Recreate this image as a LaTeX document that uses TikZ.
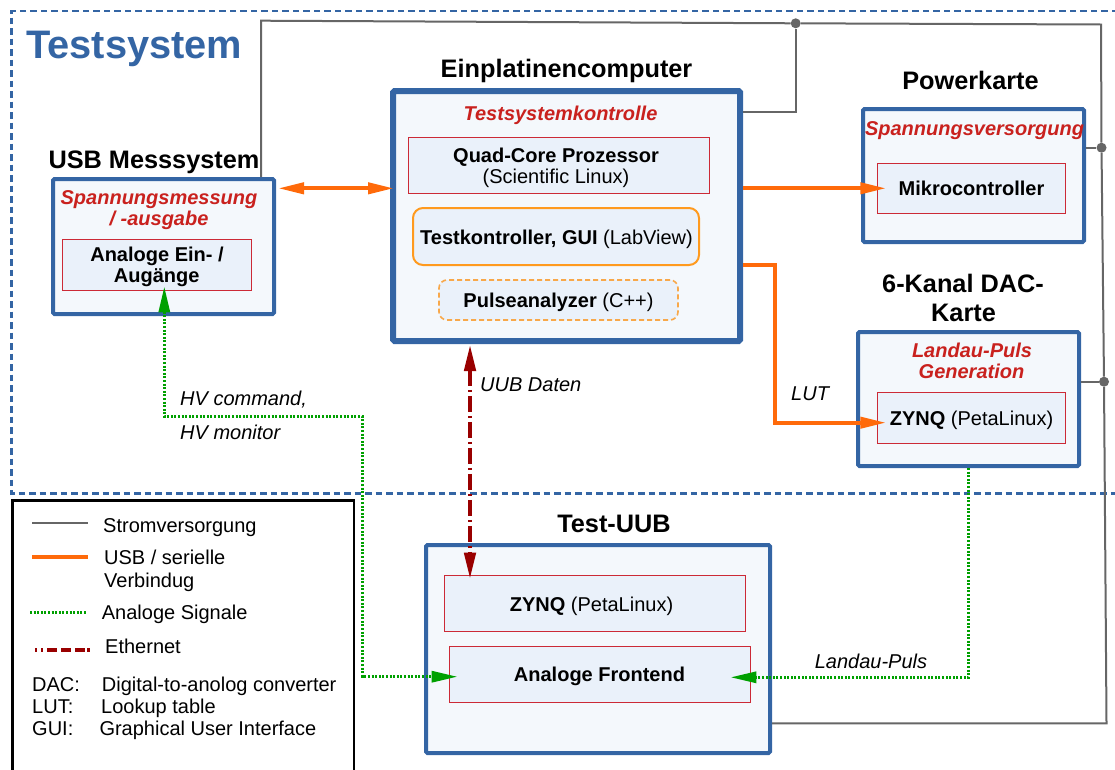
\documentclass[tikz,border=0pt]{standalone}
\usepackage{fontspec}
\setmainfont{Liberation Sans}
\usetikzlibrary{arrows.meta,calc}
\definecolor{tblue}{HTML}{3465A4}
\definecolor{redtxt}{HTML}{C9211E}
\definecolor{redb}{HTML}{CC2A36}
\definecolor{outfill}{HTML}{F4F8FC}
\definecolor{infill}{HTML}{EAF1FA}
\definecolor{usbor}{HTML}{FF6A0A}
\definecolor{boxor}{HTML}{FF9A1E}
\definecolor{boxorl}{HTML}{F8A84A}
\definecolor{anagreen}{HTML}{00A000}
\definecolor{ethred}{HTML}{990000}
\definecolor{pwrgray}{HTML}{666666}
\begin{document}
\begin{tikzpicture}[x=1pt,y=-1pt,
  outerbox/.style={draw=tblue, line width=4pt, fill=outfill, rounded corners=1.5pt, inner sep=0pt},
  innerbox/.style={draw=redb, line width=0.9pt, fill=infill, inner sep=0pt},
  boxtext/.style={font=\fontsize{20}{22}\selectfont, inner sep=0pt, anchor=base},
  titletxt/.style={font=\fontsize{25.3}{29}\selectfont\bfseries, align=center, inner sep=0pt, anchor=base},
  redlbl/.style={text=redtxt, font=\fontsize{20}{21}\selectfont\bfseries\itshape, inner sep=0pt, anchor=base},
  conlbl/.style={font=\fontsize{20}{22}\selectfont\itshape, inner sep=0pt, anchor=base west},
  legtxt/.style={font=\fontsize{20}{22}\selectfont, inner sep=0pt, anchor=base west},
  power/.style={draw=pwrgray, line width=2pt},
  usbline/.style={draw=usbor, line width=4pt},
  analog/.style={draw=anagreen, line width=3.2pt, dash pattern=on 2pt off 1.6pt},
  ethline/.style={draw=ethred, line width=4.5pt, dash pattern=on 16pt off 4pt on 2pt off 4pt},
  jdot/.style={circle, fill=pwrgray, inner sep=0pt, minimum size=10pt}
]
\useasboundingbox (0,0) rectangle (1115,769);

% Testsystem frame
\draw[tblue, line width=2.7pt, dash pattern=on 6.5pt off 4pt] (1118,11) -- (11.5,11) -- (11.5,493.3) -- (1118,493.3);
\node[font=\fontsize{39.8}{44}\selectfont\bfseries, text=tblue, inner sep=0pt, anchor=base west] (tstitle) at (26,58) {Testsystem};

% Legend box
\node[draw=black, line width=2.7pt, minimum width=341.7pt, minimum height=300pt, inner sep=0pt, anchor=north west] (legend) at (11,499) {};

% Boxes
\node[outerbox, minimum width=221pt, minimum height=135pt] (usb) at (163.5,246.5) {};
\node[outerbox, line width=6pt, minimum width=347pt, minimum height=250pt] (ep) at (566.5,216) {};
\node[outerbox, minimum width=221pt, minimum height=133pt] (pk) at (973.5,175.5) {};
\node[outerbox, minimum width=221pt, minimum height=134pt] (dac) at (968.5,399) {};
\node[outerbox, minimum width=344pt, minimum height=208pt] (uub) at (598,649) {};

% Titles
\node[titletxt] (usbt) at (154,168) {USB Messsystem};
\node[titletxt] (ept) at (566.5,77) {Einplatinencomputer};
\node[titletxt] (pkt) at (970.5,89) {Powerkarte};
\node[titletxt] (dact1) at (963,292) {6-Kanal DAC-};
\node[titletxt] (dact2) at (963.5,321) {Karte};
\node[titletxt] (uubt) at (614,532) {Test-UUB};

% Red sub labels
\node[redlbl] (usbr1) at (159,204) {Spannungsmessung};
\node[redlbl] (usbr2) at (159,225) {/ -ausgabe};
\node[redlbl] (epr) at (560.5,120) {Testsystemkontrolle};
\node[redlbl] (pkr) at (974.5,135) {Spannungsversorgung};
\node[redlbl] (dacr1) at (972,357) {Landau-Puls};
\node[redlbl] (dacr2) at (971.5,378) {Generation};

% Inner boxes
\node[innerbox, minimum width=189pt, minimum height=51pt] (ain) at (156.5,264.5) {};
\node[innerbox, minimum width=301pt, minimum height=56pt] (qc) at (558.5,165) {};
\node[innerbox, draw=boxor, line width=2pt, rounded corners=10pt, minimum width=286pt, minimum height=57pt] (tk) at (556,236.5) {};
\node[innerbox, draw=boxorl, line width=1.6pt, dash pattern=on 5pt off 3pt, rounded corners=8pt, minimum width=239pt, minimum height=40pt] (pa) at (558.5,300) {};
\node[innerbox, minimum width=188pt, minimum height=50pt] (mc) at (971,188) {};
\node[innerbox, minimum width=188pt, minimum height=51pt] (zd) at (971,417.5) {};
\node[innerbox, minimum width=301pt, minimum height=56pt] (zu) at (594.5,603) {};
\node[innerbox, minimum width=301pt, minimum height=56pt] (af) at (599.5,674) {};

% Inner box texts
\node[boxtext, font=\fontsize{20}{22}\selectfont\bfseries] (aint1) at (157,261) {Analoge Ein- /};
\node[boxtext, font=\fontsize{20}{22}\selectfont\bfseries] (aint2) at (156.7,282) {Augänge};
\node[boxtext] (qct1) at (556,162) {\textbf{Quad-Core Prozessor}};
\node[boxtext] (qct2) at (556,183.5) {(Scientific Linux)};
\node[boxtext] (tkt) at (556.5,244) {\textbf{Testkontroller, GUI} (LabView)};
\node[boxtext] (pat) at (558.5,307.5) {\textbf{Pulseanalyzer} (C++)};
\node[boxtext] (mct) at (971.5,195) {\textbf{Mikrocontroller}};
\node[boxtext] (zdt) at (971.5,425) {\textbf{ZYNQ} (PetaLinux)};
\node[boxtext] (zut) at (591.5,611.5) {\textbf{ZYNQ} (PetaLinux)};
\node[boxtext] (aft) at (599.5,681.5) {\textbf{Analoge Frontend}};

% Power lines (Stromversorgung)
\node[jdot] (j1) at (795.7,23.3) {};
\node[jdot] (j2) at (1101.5,147.7) {};
\node[jdot] (j3) at (1104,381.7) {};
\coordinate (ptl) at (261,20.7);
\coordinate (ptr) at (1101,24.5);
\coordinate (pbr) at (1106.5,723.3);
\draw[power] (usb.north -| 261,0) -- (ptl) -- (j1) -- (ptr) -- (j2) -- (j3) -- (pbr) -- (uub.east |- 0,723.3);
\draw[power] (ep.east |- 0,111.7) -- (j1 |- 0,111.7) -- (j1);
\draw[power] (pk.east |- j2) -- (j2);
\draw[power] (dac.east |- j3) -- (j3);

% USB / serial
\draw[usbline, {Triangle[length=26pt,width=11pt]}-{Triangle[length=26pt,width=11pt]}] ($(usb.east |- 0,188.3)+(2,0)$) -- ($(ep.west |- 0,188.3)+(4,0)$);
\draw[usbline, -{Triangle[length=26pt,width=11pt]}] (ep.east |- 0,188.3) -- ($(mc.west |- 0,188.3)+(9.7,0)$);
\draw[usbline, -{Triangle[length=26pt,width=11pt]}] (ep.east |- 0,265) -- (775,265) -- (775,422.7) -- ($(zd.west |- 0,422.7)+(9.7,0)$);
\node[conlbl] (lutl) at (791,400) {LUT};

% Ethernet
\draw[ethline, {Triangle[length=27pt,width=11pt]}-{Triangle[length=27pt,width=11pt]}] (ep.south -| 470,0) -- ($(zu.north -| 470,0)+(0,5)$);
\node[conlbl] (uubl) at (480,391) {UUB Daten};

% Analog signals
\draw[analog, {Triangle[length=26pt,width=11pt]}-{Triangle[length=26pt,width=11pt]}] ($(ain.south -| 164.3,0)+(0,-4)$) -- (164.3,416.7) -- (362.7,416.7) -- (362.7,676.7) -- ($(af.west |- 0,676.7)+(9,0)$);
\node[conlbl] (hv1) at (180,405) {HV command,};
\node[conlbl] (hv2) at (180,439) {HV monitor};
\draw[analog, -{Triangle[length=26pt,width=11pt]}] (dac.south -| 968.7,0) -- (968.7,677.3) -- ($(af.east |- 0,677.3)+(-20,0)$);
\node[conlbl, anchor=base] (lpl) at (871,668) {Landau-Puls};

% Legend contents
\coordinate (lg1a) at (32,522.7); \coordinate (lg1b) at (88,522.7);
\draw[power] (lg1a) -- (lg1b);
\node[legtxt] (lt1) at (103,532) {Stromversorgung};
\coordinate (lg2a) at (32,556.7); \coordinate (lg2b) at (88,556.7);
\draw[usbline] (lg2a) -- (lg2b);
\node[legtxt] (lt2a) at (104,564) {USB / serielle};
\node[legtxt] (lt2b) at (104,587) {Verbindug};
\coordinate (lg3a) at (30,612.7); \coordinate (lg3b) at (86,612.7);
\draw[analog] (lg3a) -- (lg3b);
\node[legtxt] (lt3) at (101.7,619) {Analoge Signale};
\coordinate (lg4a) at (35,650); \coordinate (lg4b) at (90,650);
\draw[ethline, line width=4pt, dash pattern=on 2pt off 4pt on 2pt off 4pt on 10pt off 4pt on 10pt off 4pt on 10pt] (lg4a) -- (lg4b);
\node[legtxt] (lt4) at (105,653) {Ethernet};
\node[legtxt] (ab1) at (32,691) {DAC:};
\node[legtxt] (ab1t) at (101.7,691) {Digital-to-anolog converter};
\node[legtxt] (ab2) at (32,713) {LUT:};
\node[legtxt] (ab2t) at (101,713) {Lookup table};
\node[legtxt] (ab3) at (32,735) {GUI:};
\node[legtxt] (ab3t) at (99.3,735) {Graphical User Interface};
\end{tikzpicture}
\end{document}
